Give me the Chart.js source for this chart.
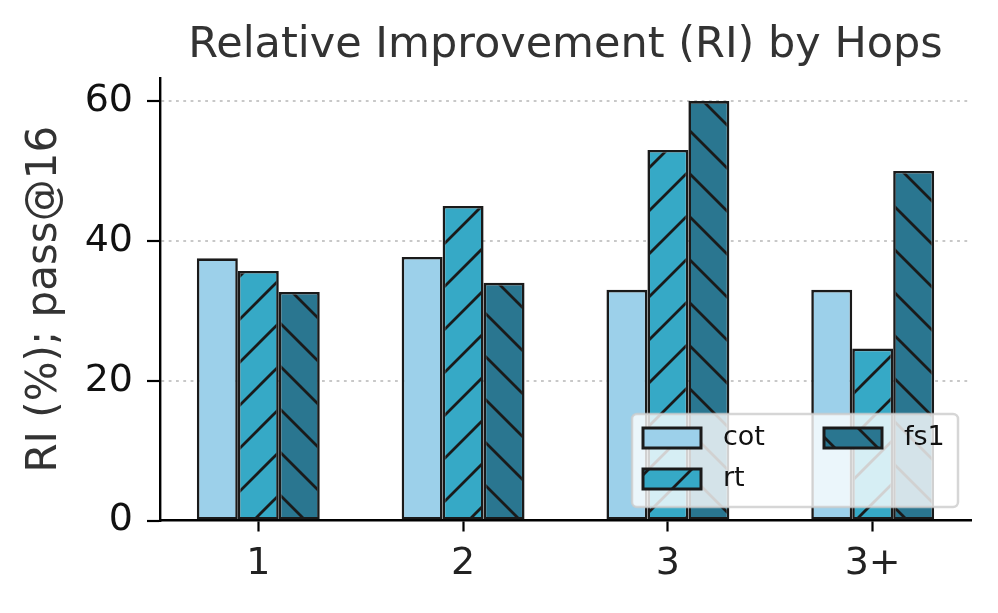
<!DOCTYPE html>
<html>
<head>
<meta charset="utf-8">
<script src="https://cdn.jsdelivr.net/npm/chart.js@4.4.1/dist/chart.umd.min.js"></script>
<style>
  html, body { margin: 0; padding: 0; background: #fff; }
  #wrap { width: 998px; height: 613px; }
</style>
</head>
<body>
<div id="wrap"><canvas id="riChart" width="998" height="613"></canvas></div>
<script>
const hops = ['1', '2', '3', '3+'];
const cotValues = [37.5, 37.7, 33.0, 33.0];
const rtValues = [35.7, 45.0, 53.0, 24.6];
const fs1Values = [32.7, 34.0, 60.0, 50.0];
const yTicks = [0, 20, 40, 60];

const EDGE = '#1a1a1a';
const FONT = "'DejaVu Sans', sans-serif";

// matplotlib-like hatch tiles
function hatch(bg, dir) {
    const s = 43;
    const c = document.createElement('canvas');
    c.width = s; c.height = s;
    const g = c.getContext('2d');
    g.fillStyle = bg;
    g.fillRect(0, 0, s, s);
    g.strokeStyle = EDGE;
    g.lineWidth = 2.8;
    g.beginPath();
    for (let k = -1; k <= 1; k++) {
        if (dir === '/') {
            g.moveTo(k * s - 2, s + 2);
            g.lineTo(k * s + s + 2, -2);
        } else {
            g.moveTo(k * s - 2, -2);
            g.lineTo(k * s + s + 2, s + 2);
        }
    }
    g.stroke();
    return document.getElementById('riChart').getContext('2d').createPattern(c, 'repeat');
}

const legendBox = {
    id: 'legendBox',
    afterDatasetsDraw(chart) {
        const ctx = chart.ctx;
        const x = 632, y = 414, w = 326, h = 93;
        ctx.save();
        ctx.beginPath();
        ctx.roundRect(x, y, w, h, 5);
        ctx.fillStyle = 'rgba(255,255,255,0.8)';
        ctx.fill();
        ctx.strokeStyle = 'rgba(204,204,204,0.8)';
        ctx.lineWidth = 2.5;
        ctx.stroke();
        const slots = [[643, 428], [643, 469], [824, 428]];
        ctx.font = '27px ' + FONT;
        ctx.textBaseline = 'middle';
        chart.data.datasets.forEach((ds, i) => {
            const [sx, sy] = slots[i];
            ctx.fillStyle = ds.backgroundColor;
            ctx.fillRect(sx, sy, 58, 20);
            ctx.strokeStyle = EDGE;
            ctx.lineWidth = 3;
            ctx.strokeRect(sx, sy, 58, 20);
            ctx.fillStyle = '#111';
            ctx.fillText(ds.label, sx + 80, sy + 10);
        });
        ctx.restore();
    }
};

const ctx = document.getElementById('riChart').getContext('2d');
new Chart(ctx, {
    type: 'bar',
    data: {
        labels: hops,
        datasets: [
            { label: 'cot', data: cotValues, backgroundColor: '#9cd0ea' },
            { label: 'rt', data: rtValues, backgroundColor: hatch('#36a9c6', '/') },
            { label: 'fs1', data: fs1Values, backgroundColor: hatch('#2a7690', '\\') }
        ].map(d => Object.assign(d, {
            borderColor: EDGE,
            borderWidth: 2.6,
            borderSkipped: false,
            categoryPercentage: 0.6,
            barPercentage: 1.0
        }))
    },
    options: {
        responsive: false,
        animation: false,
        layout: { padding: { left: 0, right: 27, top: 0, bottom: 0 } },
        scales: {
            x: {
                grid: { offset: false, drawOnChartArea: false, color: 'transparent', tickColor: '#000', tickLength: 11, tickWidth: 2.2 },
                border: { display: true, color: '#000', width: 2.4 },
                ticks: { color: '#222', font: { family: FONT, size: 38 }, padding: 10 },
                // x-limits like matplotlib's auto margins: -0.48 .. 3.48
                afterBuildTicks: s => { s._startValue = -0.48; s._valueRange = hops.length - 1 + 0.96; },
                afterFit: s => { s.height = 92.5; }
            },
            y: {
                min: 0,
                max: 63.3,
                afterBuildTicks: s => { s.ticks = yTicks.map(v => ({ value: v })); },
                grid: {
                    color: c => c.tick && c.tick.value === 0 ? 'transparent' : '#c8c8c8',
                    lineWidth: 2,
                    tickColor: '#000',
                    tickBorderDash: [],
                    tickLength: 13,
                    tickWidth: 2.2
                },
                border: { display: true, color: '#000', width: 2.4, dash: [2.8, 4.5] },
                ticks: { color: '#111', font: { family: FONT, size: 38 }, padding: 14 },
                title: { display: true, text: 'RI (%); pass@16', color: '#333', font: { family: FONT, size: 42 }, padding: { top: 20, bottom: 0 } },
                afterFit: s => { s.width = 160; }
            }
        },
        plugins: {
            legend: { display: false },
            tooltip: { enabled: false },
            title: {
                display: true,
                fullSize: false,
                text: 'Relative Improvement (RI) by Hops',
                color: '#333',
                font: { family: FONT, size: 43, weight: 'normal' },
                padding: { top: 20, bottom: 6.4 }
            }
        }
    },
    plugins: [legendBox]
});
</script>
</body>
</html>
